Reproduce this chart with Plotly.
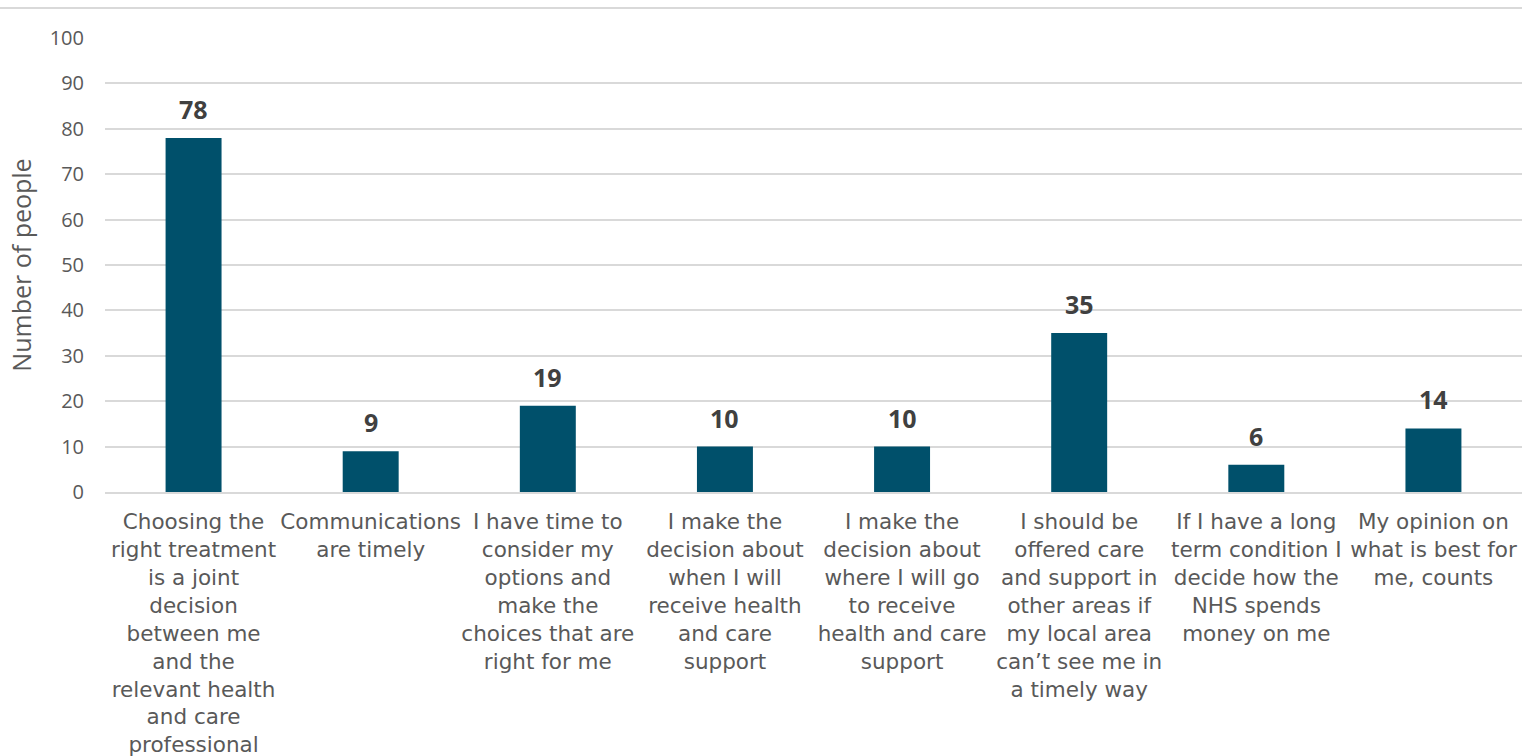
import plotly.graph_objects as go

# Survey responses: what matters most to people about personalised care
categories = [
    "Choosing the right treatment is a joint decision between me and the relevant health and care professional",
    "Communications are timely",
    "I have time to consider my options and make the choices that are right for me",
    "I make the decision about when I will receive health and care support",
    "I make the decision about where I will go to receive health and care support",
    "I should be offered care and support in other areas if my local area can’t see me in a timely way",
    "If I have a long term condition I decide how the NHS spends money on me",
    "My opinion on what is best for me, counts",
]
counts = [78, 9, 19, 10, 10, 35, 6, 14]
tick_labels = [
    "Choosing the<br>right treatment<br>is a joint<br>decision<br>between me<br>and the<br>relevant health<br>and care<br>professional",
    "Communications<br>are timely",
    "I have time to<br>consider my<br>options and<br>make the<br>choices that are<br>right for me",
    "I make the<br>decision about<br>when I will<br>receive health<br>and care<br>support",
    "I make the<br>decision about<br>where I will go<br>to receive<br>health and care<br>support",
    "I should be<br>offered care<br>and support in<br>other areas if<br>my local area<br>can’t see me in<br>a timely way",
    "If I have a long<br>term condition I<br>decide how the<br>NHS spends<br>money on me",
    "My opinion on<br>what is best for<br>me, counts",
]
y_ticks = list(range(0, 101, 10))

BAR = "#00506B"
GRID = "#D9D9D9"
TEXT = "#595959"

fig = go.Figure(
    go.Bar(
        x=categories,
        y=counts,
        marker=dict(color=BAR, line=dict(width=0)),
        hoverinfo="x+y",
    )
)

# value labels above each bar
for cat, val in zip(categories, counts):
    fig.add_annotation(
        x=cat, y=val, text=f"<b>{val}</b>", showarrow=False,
        yanchor="bottom", yshift=10,
        font=dict(family="Open Sans", size=25, color="#404040"),
    )

# thin frame line across the top of the chart
fig.add_shape(
    type="line", xref="paper", yref="paper",
    x0=-105 / 1417, x1=1.0, y0=(492 - 8) / 454, y1=(492 - 8) / 454,
    line=dict(color=GRID, width=2),
)

fig.update_layout(
    width=1522, height=756,
    margin=dict(l=105, r=0, t=38, b=264),
    paper_bgcolor="white", plot_bgcolor="white",
    bargap=0.684,
    showlegend=False,
    xaxis=dict(
        tickmode="array", tickvals=categories, ticktext=tick_labels,
        tickangle=0, ticks="", showgrid=False, automargin=False,
        showline=True, linecolor=GRID, linewidth=2,
        tickfont=dict(family="DejaVu Sans", size=21.5, color=TEXT),
        ticklabelstandoff=9,
    ),
    yaxis=dict(
        range=[0, 100], tickvals=y_ticks, automargin=False,
        showgrid=True, gridcolor=GRID, gridwidth=1.5,
        zeroline=False, showline=False, ticks="",
        tickfont=dict(family="Open Sans", size=20, color=TEXT),
        ticklabelstandoff=20,
        title=dict(text="Number of people", standoff=10,
                   font=dict(family="Open Sans", size=25, color=TEXT)),
    ),
)

fig.write_html("out.html")
